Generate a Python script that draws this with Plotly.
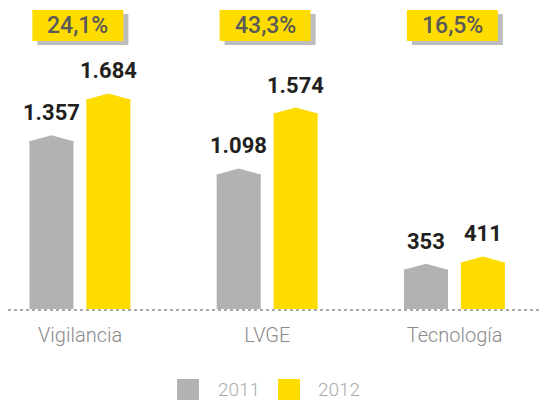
import plotly.graph_objects as go

# ---- data ----
categories = ["Vigilancia", "LVGE", "Tecnología"]
series_names = ["2011", "2012"]
values_2011 = [1357, 1098, 353]
values_2012 = [1684, 1574, 411]
growth_labels = ["24,1%", "43,3%", "16,5%"]

# ---- style ----
GRAY = "#b2b2b2"
YELLOW = "#ffdc00"
SHADOW = "#bdbdbd"
FONT = "Roboto"
W, H = 540, 402
ML, MR, MT, MB = 8, 0, 0, 93
PW, PH = W - ML - MR, H - MT - MB

X_RANGE = [-0.385, 2.456]
Y_RANGE = [0, 2414]
BAR_W = 0.235
OFFSETS = [-0.153, 0.151]
CAP = 47


def fmt(v):
    return f"{v:,}".replace(",", ".")


def px_to_paper_x(px):
    return (px - ML) / PW


def px_to_paper_y(py):
    return (H - MB - py) / PH


fig = go.Figure()
series = [values_2011, values_2012]
colors = [GRAY, YELLOW]

for s, (name, vals, col, off) in enumerate(zip(series_names, series, colors, OFFSETS)):
    xs = [i + off for i in range(len(categories))]
    fig.add_trace(go.Bar(
        x=xs, y=[v - CAP for v in vals], width=BAR_W,
        marker=dict(color=col, line=dict(width=0)),
        name=name, showlegend=False, hoverinfo="skip",
    ))
    # peaked caps
    cx, cy = [], []
    for x, v in zip(xs, vals):
        l, r = x - BAR_W / 2, x + BAR_W / 2
        cx += [l, l, x, r, r, None]
        cy += [v - CAP - 15, v - CAP, v, v - CAP, v - CAP - 15, None]
    fig.add_trace(go.Scatter(
        x=cx, y=cy, mode="lines", fill="toself", fillcolor=col,
        line=dict(width=0, color=col), showlegend=False, hoverinfo="skip",
    ))

annotations = []
shapes = []

# value labels
for vals, off in zip(series, OFFSETS):
    for i, v in enumerate(vals):
        annotations.append(dict(
            x=i + off, y=v, xref="x", yref="y", text=f"<b>{fmt(v)}</b>",
            showarrow=False, yanchor="bottom", yshift=8,
            font=dict(family=FONT, size=22, color="#231f20"),
        ))

# growth boxes
BOX_HALF = 0.243
top_p, bot_p = px_to_paper_y(10), px_to_paper_y(41)
dx_sh = 5 / (PW / (X_RANGE[1] - X_RANGE[0]))
dy_sh = 4 / PH
for i, g in enumerate(growth_labels):
    c = i - 0.012
    shapes.append(dict(type="rect", xref="x", yref="paper",
                       x0=c - BOX_HALF + dx_sh, x1=c + BOX_HALF + dx_sh,
                       y0=bot_p - dy_sh, y1=top_p - dy_sh,
                       fillcolor=SHADOW, line=dict(width=0), layer="above"))
    shapes.append(dict(type="rect", xref="x", yref="paper",
                       x0=c - BOX_HALF, x1=c + BOX_HALF, y0=bot_p, y1=top_p,
                       fillcolor=YELLOW, line=dict(width=0), layer="above"))
    annotations.append(dict(
        x=c, y=(top_p + bot_p) / 2, xref="x", yref="paper", text=g,
        showarrow=False, xanchor="center", yanchor="middle",
        font=dict(family=FONT, size=23, color="#595959", weight=500),
    ))

# dotted baseline
shapes.append(dict(type="line", xref="paper", yref="paper", x0=0, x1=1,
                   y0=px_to_paper_y(310), y1=px_to_paper_y(310),
                   line=dict(color="#a8a8a8", width=2, dash="dot"), layer="above"))

# manual legend
leg_y0, leg_y1 = px_to_paper_y(400), px_to_paper_y(379)
leg_items = [(177, 218), (278, 318)]
for name, col, (sq, tx) in zip(series_names, colors, leg_items):
    shapes.append(dict(type="rect", xref="paper", yref="paper",
                       x0=px_to_paper_x(sq), x1=px_to_paper_x(sq + 22),
                       y0=leg_y0, y1=leg_y1, fillcolor=col, line=dict(width=0)))
    annotations.append(dict(
        x=px_to_paper_x(tx - 2), y=(leg_y0 + leg_y1) / 2, xref="paper", yref="paper",
        text=name, showarrow=False, xanchor="left", yanchor="middle",
        font=dict(family=FONT, size=19, color="#aaaaaa", weight=300),
    ))

fig.update_layout(
    width=W, height=H,
    margin=dict(l=ML, r=MR, t=MT, b=MB, pad=0),
    paper_bgcolor="white", plot_bgcolor="white",
    showlegend=False,
    xaxis=dict(range=X_RANGE, tickvals=list(range(len(categories))), ticktext=categories,
               showgrid=False, zeroline=False, showline=False,
               ticks="outside", ticklen=8, tickcolor="rgba(0,0,0,0)",
               tickfont=dict(family=FONT, size=20, color="#8a8a8a", weight=300),
               fixedrange=True),
    yaxis=dict(range=Y_RANGE, visible=False, fixedrange=True),
    annotations=annotations, shapes=shapes,
)

fig.write_html(
    "out.html",
    config={"displayModeBar": False},
    post_script="document.body.style.margin='0px';document.body.style.overflow='hidden';",
)
